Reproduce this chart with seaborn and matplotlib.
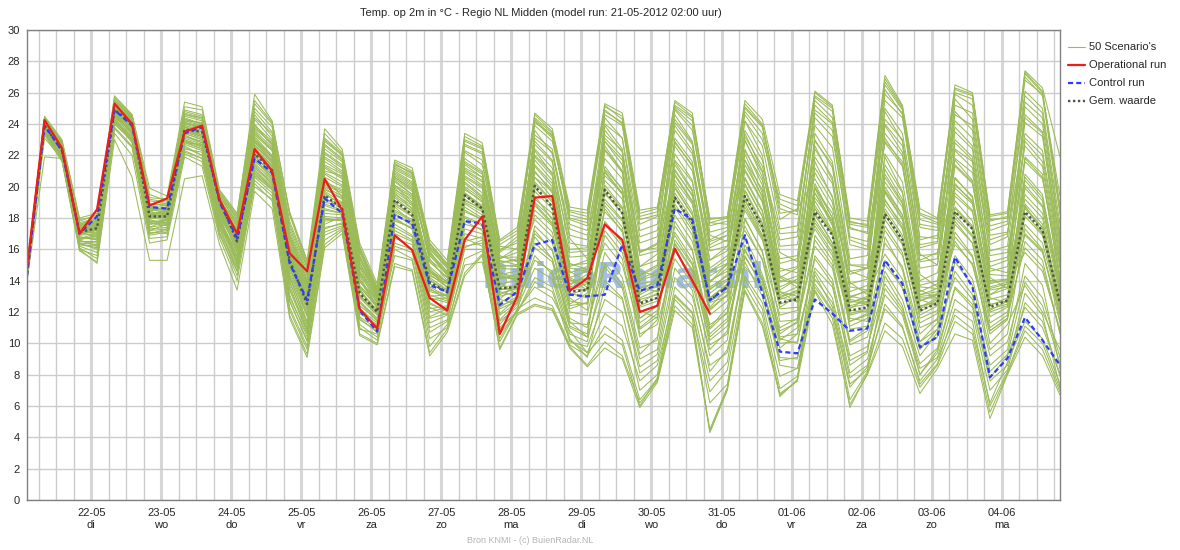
import numpy as np
import pandas as pd
import matplotlib
matplotlib.use("Agg")
import matplotlib.pyplot as plt
import matplotlib.dates as mdates
from matplotlib.lines import Line2D
import seaborn as sns

# 6-hourly steps, model run 21-05-2012 02:00
times = pd.date_range("2012-05-21 02:00", periods=60, freq="6h")
day_names = ["ma", "di", "wo", "do", "vr", "za", "zo"]

oper = [14.8, 24.25, 22.45, 17.0, 18.55, 25.3, 24.0, 18.8, 19.25, 23.5,
        23.9, 19.15, 17.0, 22.4, 21.0, 15.75, 14.6, 20.5, 18.5, 12.2,
        10.95, 16.9, 15.95, 12.9, 12.1, 16.6, 18.1, 10.6, 13.0, 19.3,
        19.4, 13.35, 14.15, 17.6, 16.6, 12.0, 12.4, 16.05, 14.0, 11.9]

control = [14.3, 23.9, 22.3, 17.0, 18.1, 24.9, 23.9, 18.7, 18.6, 23.4,
           23.8, 19.0, 16.7, 21.8, 20.9, 15.1, 12.75, 19.25, 18.3, 12.1,
           10.75, 18.2, 17.65, 13.7, 13.3, 17.8, 17.65, 12.45, 13.3, 16.3,
           16.6, 13.1, 13.0, 13.1, 16.3, 13.35, 13.7, 18.6, 17.9, 12.75,
           13.6, 16.9, 13.2, 9.47, 9.36, 12.8, 11.9, 10.8, 10.95, 15.3,
           13.8, 9.75, 10.4, 15.5, 13.6, 7.83, 9.04, 11.65, 10.2, 8.6]

gem = [14.5, 23.9, 22.3, 17.1, 17.35, 24.9, 24.05, 18.1, 18.1, 23.65,
       23.5, 19.15, 16.5, 22.1, 21.05, 15.3, 12.5, 19.45, 18.6, 13.2,
       12.0, 19.15, 18.2, 13.9, 13.25, 19.45, 18.6, 13.5, 13.6, 20.05,
       18.7, 13.3, 13.4, 19.8, 18.3, 12.55, 12.9, 19.3, 17.7, 12.75,
       13.6, 19.4, 17.45, 12.6, 12.8, 18.4, 16.9, 12.1, 12.3, 18.25,
       16.6, 12.1, 12.55, 18.4, 17.3, 12.3, 12.75, 18.4, 17.2, 12.55]

# 50 ensemble members
m01 = [14.6, 24.2, 22.6, 17.4, 17.8, 25.2, 24.3, 18.5, 18.6, 24.1, 23.8, 19.3, 17.0, 23.1, 21.9, 16.0, 13.1, 20.5, 19.4, 14.1, 12.6, 20.1, 19.0, 14.6, 13.9, 20.5, 19.6, 14.2, 14.1, 22.3, 20.8, 15.1, 14.7, 22.9, 21.4, 14.3, 14.9, 21.6, 19.8, 13.9, 15.1, 23.4, 21.0, 15.8, 15.2, 22.6, 20.4, 14.6, 14.2, 24.8, 22.9, 15.7, 15.0, 23.5, 22.4, 14.8, 14.5, 25.1, 24.0, 16.2]
m02 = [14.3, 23.8, 22.1, 16.6, 16.9, 24.6, 23.7, 17.6, 17.9, 23.2, 22.9, 18.4, 15.9, 20.8, 19.8, 13.9, 11.2, 18.0, 17.8, 12.0, 11.1, 17.6, 16.9, 12.2, 12.4, 17.3, 17.0, 12.4, 12.8, 17.2, 15.9, 11.6, 11.0, 15.8, 14.2, 9.7, 10.2, 16.3, 14.6, 10.2, 11.1, 15.9, 14.1, 10.4, 10.6, 14.8, 13.6, 8.9, 9.5, 15.3, 13.5, 9.8, 10.4, 14.6, 13.1, 8.2, 9.3, 13.9, 12.4, 8.7]
m03 = [14.5, 24.0, 22.4, 17.1, 17.5, 24.9, 24.0, 18.0, 18.2, 23.7, 23.4, 19.0, 16.6, 22.3, 21.3, 15.4, 12.6, 19.6, 18.8, 13.3, 12.1, 19.3, 18.4, 14.0, 13.4, 19.6, 18.7, 13.6, 13.7, 20.3, 19.1, 13.5, 13.8, 19.9, 18.6, 12.8, 13.1, 19.4, 17.6, 12.9, 13.8, 19.8, 17.7, 12.5, 12.9, 18.6, 17.0, 12.3, 12.5, 18.4, 16.7, 12.0, 12.7, 18.7, 17.5, 12.4, 12.9, 18.6, 17.4, 12.8]
m04 = [14.7, 24.3, 22.8, 17.6, 18.0, 25.5, 24.4, 19.1, 18.9, 24.8, 24.5, 19.6, 17.9, 24.6, 23.2, 17.2, 14.4, 22.1, 21.3, 15.6, 13.2, 21.2, 20.6, 16.1, 14.8, 22.6, 22.1, 16.0, 16.4, 24.1, 23.3, 17.9, 17.5, 24.6, 23.9, 17.2, 17.6, 24.9, 23.6, 17.5, 17.8, 25.1, 23.9, 18.9, 18.4, 25.7, 24.8, 17.6, 17.4, 26.5, 24.9, 17.9, 17.6, 25.9, 25.2, 17.8, 18.1, 26.8, 25.9, 19.4]
m05 = [14.4, 23.6, 21.9, 16.3, 16.1, 24.3, 22.8, 17.0, 17.2, 22.6, 22.0, 18.2, 15.0, 21.0, 19.9, 12.7, 10.2, 17.1, 17.5, 11.2, 10.4, 16.4, 16.0, 11.0, 11.5, 16.2, 16.4, 11.4, 12.3, 14.8, 14.1, 10.3, 9.1, 13.6, 12.8, 8.1, 8.9, 14.2, 13.0, 8.6, 9.4, 14.9, 13.5, 9.1, 9.0, 14.1, 12.6, 7.8, 8.6, 13.5, 12.0, 8.4, 9.1, 12.8, 11.9, 7.0, 8.3, 12.6, 11.4, 7.9]
m06 = [14.6, 24.1, 22.5, 17.3, 17.2, 25.0, 24.2, 18.8, 18.4, 24.4, 24.0, 18.9, 16.8, 24.0, 22.6, 16.3, 13.6, 18.6, 18.3, 13.9, 12.9, 18.2, 17.6, 15.2, 14.2, 21.4, 20.6, 15.3, 15.0, 23.6, 22.1, 16.7, 15.4, 17.6, 16.2, 11.6, 12.4, 22.8, 21.4, 14.8, 15.6, 17.2, 15.4, 11.0, 11.6, 21.6, 19.3, 13.9, 13.1, 15.7, 14.1, 10.1, 11.3, 22.4, 21.6, 14.2, 13.5, 16.9, 15.8, 11.8]
m07 = [14.2, 23.5, 21.7, 16.0, 15.6, 24.1, 23.2, 17.4, 17.9, 22.8, 22.7, 17.6, 15.6, 21.6, 20.8, 14.8, 11.9, 19.1, 19.0, 12.6, 11.4, 20.6, 19.8, 13.5, 12.8, 18.4, 17.9, 11.8, 12.6, 19.4, 17.9, 12.9, 12.1, 21.3, 19.8, 12.1, 11.6, 18.7, 16.9, 11.8, 12.7, 20.6, 18.5, 13.6, 14.1, 17.5, 15.8, 11.9, 12.2, 19.6, 17.9, 12.8, 12.4, 17.8, 16.4, 11.7, 12.3, 19.9, 18.7, 13.3]
m08 = [14.8, 24.4, 22.9, 17.8, 18.2, 25.8, 24.6, 19.9, 19.4, 25.4, 25.1, 19.8, 18.3, 25.5, 24.1, 18.2, 15.0, 23.4, 22.2, 16.2, 13.6, 21.6, 21.0, 16.4, 15.1, 23.2, 22.6, 16.5, 17.2, 24.6, 23.5, 18.5, 18.3, 25.1, 24.5, 18.3, 18.6, 25.4, 24.5, 17.9, 18.1, 25.5, 24.3, 19.5, 19.1, 26.0, 25.1, 18.0, 17.8, 27.1, 25.2, 18.6, 18.0, 26.3, 25.9, 18.2, 18.4, 27.4, 26.3, 21.9]
m09 = [14.0, 23.3, 21.6, 15.9, 15.2, 23.4, 22.0, 16.4, 16.6, 21.9, 21.3, 16.7, 14.0, 20.2, 19.1, 11.8, 9.3, 16.3, 17.2, 10.6, 10.0, 15.1, 14.7, 9.4, 10.9, 14.5, 15.7, 9.7, 11.9, 12.5, 12.2, 9.8, 8.6, 10.1, 9.2, 6.2, 7.6, 12.4, 11.2, 4.5, 7.2, 13.4, 11.3, 6.8, 7.6, 13.3, 11.2, 6.1, 8.0, 10.8, 9.8, 6.8, 8.4, 10.6, 10.2, 5.2, 8.0, 10.4, 9.2, 6.7]
m10 = [14.5, 23.9, 22.2, 17.0, 17.6, 24.7, 23.9, 18.3, 18.0, 23.5, 23.1, 19.2, 16.9, 22.9, 21.6, 15.8, 12.9, 20.1, 19.6, 14.3, 12.2, 19.9, 18.9, 14.4, 13.6, 18.9, 18.2, 13.9, 13.1, 21.7, 20.4, 14.5, 14.9, 19.0, 17.8, 13.2, 14.2, 16.9, 15.1, 10.9, 12.0, 22.1, 19.6, 14.2, 13.6, 19.3, 17.8, 13.0, 12.8, 17.2, 15.6, 11.3, 11.9, 20.6, 19.3, 13.1, 13.8, 15.8, 14.6, 10.9]
m11 = [14.6, 24.1, 22.6, 17.5, 17.9, 24.6, 23.4, 18.1, 18.5, 23.9, 23.6, 18.6, 16.2, 22.0, 20.7, 14.9, 12.1, 18.9, 18.5, 12.9, 11.8, 20.9, 20.2, 15.6, 14.4, 20.2, 19.3, 14.9, 15.0, 17.9, 16.8, 12.2, 12.6, 22.3, 20.9, 13.6, 13.3, 20.4, 18.9, 13.2, 14.0, 18.0, 15.8, 11.8, 12.1, 23.4, 21.6, 15.0, 14.8, 18.9, 17.3, 12.7, 13.2, 16.5, 15.0, 10.8, 11.6, 21.8, 20.6, 14.1]
m12 = [14.4, 23.7, 22.0, 16.8, 16.6, 25.3, 24.1, 17.8, 17.7, 23.0, 22.5, 18.0, 15.6, 23.5, 22.3, 16.8, 13.9, 20.9, 20.3, 13.7, 12.5, 18.7, 17.7, 13.1, 12.7, 19.9, 19.0, 13.0, 13.3, 22.9, 21.7, 14.6, 13.9, 23.6, 22.2, 15.6, 15.9, 21.1, 19.4, 14.6, 15.4, 24.2, 22.0, 14.8, 14.5, 19.9, 17.6, 12.6, 13.0, 23.1, 21.4, 14.4, 13.6, 24.8, 23.6, 15.6, 15.8, 22.6, 21.3, 14.3]
m13 = [14.9, 24.5, 23.0, 18.0, 18.3, 25.6, 24.5, 19.2, 19.0, 24.6, 24.4, 19.5, 17.6, 25.0, 23.8, 17.8, 14.9, 22.7, 21.8, 15.9, 13.4, 21.5, 20.8, 16.3, 15.0, 22.9, 22.4, 15.9, 16.8, 20.6, 19.7, 15.8, 15.9, 19.5, 18.6, 14.9, 15.3, 24.6, 22.9, 16.6, 17.2, 24.8, 23.4, 17.9, 18.6, 20.5, 18.6, 14.4, 14.8, 25.9, 24.7, 16.6, 16.9, 21.7, 20.4, 14.9, 15.3, 24.1, 23.2, 15.9]
m14 = [14.3, 23.4, 21.8, 16.4, 16.3, 24.0, 23.0, 17.2, 17.3, 22.2, 21.8, 17.3, 14.9, 20.4, 19.4, 13.1, 10.4, 17.6, 18.1, 12.2, 11.3, 18.0, 17.3, 12.6, 12.0, 17.0, 16.7, 10.9, 12.0, 16.8, 15.4, 11.4, 10.4, 17.8, 16.4, 10.6, 11.2, 15.4, 13.8, 9.6, 10.8, 16.8, 14.4, 10.8, 11.3, 16.2, 14.8, 9.9, 10.4, 14.6, 12.8, 9.2, 10.7, 17.1, 15.6, 10.0, 11.2, 13.7, 12.0, 9.6]
m15 = [14.6, 24.2, 22.7, 17.3, 17.6, 24.9, 24.1, 18.4, 18.7, 24.0, 23.9, 18.8, 17.3, 22.6, 21.7, 15.1, 13.2, 21.6, 20.9, 14.6, 13.0, 19.6, 18.6, 14.8, 13.5, 20.9, 20.1, 14.4, 14.6, 21.0, 19.6, 14.1, 13.4, 23.9, 22.4, 14.6, 14.3, 20.2, 18.4, 12.7, 13.3, 19.2, 16.9, 12.3, 13.0, 21.9, 20.2, 13.3, 13.7, 20.3, 18.7, 13.4, 12.9, 19.4, 18.4, 12.8, 13.1, 20.8, 19.5, 13.6]
m16 = [14.5, 24.0, 22.4, 17.2, 17.0, 25.4, 24.2, 18.2, 18.1, 23.4, 23.0, 18.3, 16.4, 21.8, 20.6, 14.4, 11.7, 19.9, 19.2, 13.0, 11.9, 17.8, 17.4, 12.3, 11.8, 19.0, 18.4, 13.3, 13.0, 19.7, 18.6, 13.1, 13.5, 18.6, 17.1, 12.3, 12.7, 22.1, 20.4, 14.0, 14.6, 19.1, 17.2, 13.1, 13.6, 18.2, 16.4, 12.1, 12.0, 21.4, 19.6, 13.1, 13.3, 18.2, 16.9, 12.0, 12.4, 18.1, 16.9, 12.4]
m17 = [14.7, 24.3, 22.6, 17.7, 18.0, 24.6, 23.8, 18.9, 18.8, 24.2, 24.1, 19.1, 17.7, 24.3, 23.0, 17.0, 14.3, 21.0, 20.7, 14.9, 13.6, 20.5, 19.7, 15.7, 14.6, 21.8, 21.0, 15.4, 15.8, 23.1, 22.2, 17.3, 16.9, 21.1, 19.9, 15.8, 16.4, 23.6, 22.1, 16.9, 16.5, 21.7, 19.3, 15.4, 15.6, 24.4, 23.2, 16.6, 16.2, 22.8, 21.3, 15.2, 15.4, 25.6, 24.3, 16.9, 17.1, 23.4, 22.3, 15.6]
m18 = [14.1, 23.1, 21.8, 16.1, 15.4, 23.7, 22.5, 16.7, 16.8, 22.4, 22.2, 17.0, 14.3, 20.6, 19.6, 12.3, 9.8, 16.6, 17.3, 11.0, 10.2, 16.0, 15.4, 10.3, 11.0, 15.4, 15.9, 10.1, 12.1, 13.6, 12.9, 10.8, 9.4, 11.9, 11.1, 7.6, 8.6, 13.1, 12.0, 6.9, 8.3, 14.3, 12.6, 7.9, 8.4, 13.8, 12.1, 7.2, 8.5, 12.2, 11.0, 7.6, 9.0, 11.8, 10.9, 6.2, 8.8, 11.4, 10.3, 7.4]
m19 = [14.5, 24.0, 22.3, 16.9, 17.3, 24.8, 23.9, 18.6, 18.3, 23.8, 23.5, 18.7, 16.5, 23.7, 22.8, 16.6, 13.7, 22.4, 21.6, 15.4, 13.1, 21.0, 20.3, 15.2, 14.2, 21.2, 20.6, 15.1, 15.4, 19.2, 18.3, 13.8, 14.2, 24.4, 23.1, 15.9, 16.1, 22.6, 21.0, 15.3, 16.2, 20.1, 18.1, 13.4, 14.1, 17.3, 15.6, 11.4, 11.9, 23.9, 22.2, 15.3, 15.8, 20.2, 19.0, 13.6, 13.9, 24.6, 23.5, 15.1]
m20 = [14.4, 23.8, 22.0, 16.7, 17.0, 24.4, 23.6, 17.9, 17.6, 22.9, 22.4, 17.8, 15.4, 21.3, 20.3, 14.0, 11.0, 18.3, 18.2, 12.4, 11.5, 19.4, 18.6, 13.6, 13.0, 18.1, 17.6, 12.8, 12.5, 16.1, 15.2, 11.1, 10.6, 18.8, 17.4, 11.0, 11.9, 17.5, 15.9, 10.4, 11.4, 15.6, 13.6, 9.7, 10.6, 19.1, 17.2, 10.9, 11.1, 16.4, 14.9, 10.6, 11.6, 15.6, 14.1, 9.6, 10.6, 17.3, 16.0, 11.3]
m21 = [14.6, 24.2, 22.5, 17.4, 17.7, 25.1, 24.4, 18.7, 18.5, 24.5, 24.2, 19.4, 18.0, 23.9, 22.9, 16.9, 14.1, 23.0, 22.0, 16.0, 13.3, 20.3, 19.5, 15.8, 14.6, 22.2, 21.4, 16.2, 16.0, 24.7, 23.7, 18.7, 18.5, 25.3, 24.7, 18.5, 18.7, 23.9, 22.3, 16.3, 16.9, 22.9, 20.9, 16.6, 16.8, 25.2, 24.1, 17.3, 17.1, 25.5, 24.4, 17.4, 17.2, 24.2, 23.1, 16.3, 16.8, 25.8, 24.7, 17.1]
m22 = [14.5, 23.9, 22.3, 17.1, 16.8, 24.5, 23.5, 17.7, 17.9, 23.3, 22.8, 18.1, 16.1, 22.4, 21.4, 15.6, 12.4, 19.5, 18.9, 13.6, 12.4, 19.0, 18.1, 13.8, 13.3, 19.2, 18.5, 12.8, 13.9, 18.2, 17.1, 12.5, 13.2, 20.4, 19.2, 12.4, 12.9, 18.2, 16.5, 12.2, 13.1, 21.4, 19.4, 12.9, 12.7, 19.6, 17.5, 12.7, 12.5, 17.9, 16.3, 11.8, 12.4, 22.8, 21.7, 14.0, 14.1, 19.2, 18.0, 12.1]
m23 = [14.3, 23.6, 21.9, 16.5, 16.4, 24.2, 23.3, 17.3, 17.4, 22.7, 22.3, 17.6, 15.3, 21.4, 20.1, 13.5, 10.9, 17.8, 17.9, 11.7, 10.9, 17.2, 16.6, 11.7, 12.2, 16.7, 16.2, 11.2, 12.5, 15.6, 14.4, 10.6, 10.1, 14.9, 13.5, 9.0, 9.6, 15.9, 14.3, 9.2, 10.2, 17.9, 15.9, 10.3, 10.0, 15.4, 13.8, 8.6, 9.4, 16.8, 14.7, 10.1, 10.9, 14.2, 12.8, 8.6, 9.6, 15.1, 13.7, 8.4]
m24 = [14.7, 24.3, 22.8, 17.6, 17.4, 25.4, 24.5, 19.3, 19.2, 24.9, 24.6, 19.6, 18.1, 25.3, 24.0, 18.4, 15.3, 23.7, 22.4, 16.4, 13.8, 21.7, 21.2, 16.6, 15.3, 23.4, 22.8, 16.6, 17.4, 23.9, 22.9, 18.2, 17.9, 25.2, 24.3, 18.1, 18.4, 25.5, 24.7, 17.7, 18.0, 24.6, 23.0, 19.2, 18.8, 25.8, 25.0, 17.8, 17.5, 26.9, 25.1, 18.3, 17.9, 26.5, 26.0, 18.1, 18.3, 27.2, 26.0, 18.8]
m25 = [14.5, 24.0, 22.4, 17.0, 17.4, 24.8, 24.0, 18.2, 18.3, 23.6, 23.3, 19.0, 16.7, 23.0, 21.9, 15.7, 13.0, 20.6, 20.0, 14.5, 12.6, 20.4, 19.5, 14.7, 13.9, 20.3, 19.4, 14.1, 14.4, 18.5, 17.5, 13.2, 12.9, 16.4, 15.0, 10.9, 11.7, 19.3, 17.4, 12.3, 13.5, 23.0, 20.6, 14.3, 13.8, 17.7, 16.1, 11.6, 11.4, 19.2, 17.4, 12.2, 12.8, 16.3, 15.1, 10.6, 11.5, 18.3, 17.0, 12.6]
m26 = [14.6, 24.1, 22.5, 17.2, 17.5, 25.0, 24.1, 18.4, 18.2, 24.3, 24.0, 18.4, 16.9, 23.3, 22.3, 16.1, 13.4, 21.3, 20.6, 14.8, 12.9, 19.8, 19.2, 14.3, 13.8, 21.0, 20.3, 15.0, 14.9, 22.0, 20.9, 14.9, 15.3, 20.7, 19.6, 14.1, 14.6, 21.4, 19.7, 13.6, 14.3, 20.2, 18.1, 13.0, 13.3, 22.4, 20.6, 13.8, 14.1, 20.8, 19.0, 13.3, 13.8, 21.3, 20.2, 13.9, 14.0, 21.9, 20.8, 13.9]
m27 = [14.4, 23.7, 22.1, 16.6, 16.2, 24.2, 23.0, 17.1, 17.0, 22.5, 22.0, 17.4, 14.6, 20.9, 19.9, 12.9, 10.6, 17.3, 17.7, 11.5, 10.8, 16.7, 16.3, 11.3, 11.8, 16.1, 16.6, 11.0, 12.0, 14.2, 13.6, 10.1, 9.8, 12.8, 12.0, 7.0, 8.0, 13.6, 12.4, 7.6, 8.8, 15.5, 13.8, 8.6, 8.4, 13.6, 12.0, 6.4, 8.2, 14.3, 12.4, 8.0, 9.4, 13.5, 12.3, 7.6, 8.6, 13.2, 11.8, 7.2]
m28 = [14.8, 24.4, 22.9, 17.9, 18.1, 25.7, 24.6, 19.5, 19.1, 25.1, 24.9, 19.7, 18.2, 25.9, 24.2, 18.3, 15.2, 22.9, 22.0, 15.8, 13.3, 21.4, 20.9, 16.2, 14.9, 22.7, 22.2, 15.8, 16.6, 24.3, 23.2, 18.0, 17.7, 24.8, 24.1, 17.6, 18.1, 25.1, 24.2, 18.0, 18.0, 25.3, 24.0, 18.6, 18.2, 26.1, 25.2, 17.4, 17.0, 26.2, 24.6, 17.6, 17.4, 26.0, 25.6, 17.5, 17.8, 27.0, 25.8, 18.2]
m29 = [14.0, 21.9, 21.8, 16.0, 15.1, 23.0, 20.6, 15.3, 15.3, 20.5, 20.7, 16.3, 13.4, 19.7, 18.6, 11.6, 9.1, 16.1, 17.0, 10.5, 9.9, 14.9, 14.6, 9.2, 10.7, 14.3, 15.6, 9.6, 11.8, 12.4, 12.1, 9.7, 8.5, 9.7, 9.0, 5.9, 7.5, 12.1, 11.0, 4.4, 7.1, 13.3, 11.1, 6.7, 7.6, 16.9, 15.3, 10.1, 10.8, 19.7, 18.0, 12.3, 12.9, 21.4, 20.3, 13.8, 14.1, 18.8, 17.1, 12.0]
m30 = [14.5, 24.0, 22.3, 17.0, 17.1, 24.7, 23.8, 18.0, 18.1, 23.6, 23.2, 18.5, 16.3, 22.1, 21.0, 15.0, 12.2, 20.0, 19.4, 13.5, 11.9, 21.4, 20.9, 15.9, 14.3, 19.6, 18.8, 13.4, 13.6, 20.6, 19.3, 13.7, 14.4, 22.6, 21.0, 13.3, 13.6, 19.6, 17.9, 12.6, 13.0, 21.7, 19.8, 13.3, 13.0, 20.2, 18.0, 12.2, 12.9, 22.1, 20.3, 14.0, 14.5, 19.6, 18.5, 12.9, 12.6, 20.4, 19.1, 13.2]
m31 = [14.6, 24.1, 22.6, 17.3, 17.8, 25.2, 24.3, 18.6, 18.6, 24.1, 23.7, 18.9, 17.1, 23.6, 22.5, 16.4, 13.8, 21.9, 21.2, 15.2, 13.0, 20.7, 20.0, 15.4, 14.0, 21.6, 20.9, 15.6, 15.2, 22.7, 21.6, 16.0, 16.1, 23.1, 21.9, 14.9, 15.7, 24.1, 22.7, 16.1, 16.6, 23.6, 21.7, 16.2, 16.3, 23.9, 22.5, 15.4, 15.6, 24.3, 23.0, 16.1, 16.4, 23.8, 22.6, 15.9, 16.2, 24.4, 23.4, 16.5]
m32 = [14.3, 23.5, 21.8, 16.4, 16.0, 24.1, 23.1, 17.2, 17.6, 22.9, 22.6, 17.7, 15.2, 21.2, 20.2, 13.7, 10.8, 18.1, 18.0, 12.1, 11.0, 17.4, 16.8, 12.0, 12.3, 17.6, 17.3, 11.9, 12.9, 16.4, 15.4, 11.3, 11.2, 15.1, 13.8, 9.3, 10.4, 16.6, 15.0, 9.9, 10.6, 16.3, 14.2, 10.0, 10.1, 15.6, 14.1, 9.2, 9.8, 13.8, 12.2, 8.7, 9.7, 15.2, 13.7, 9.2, 10.1, 14.3, 12.9, 9.1]
m33 = [14.5, 24.0, 22.4, 17.2, 17.3, 24.9, 23.9, 18.1, 18.0, 23.7, 23.3, 18.6, 16.4, 22.5, 21.3, 15.3, 12.8, 19.3, 18.6, 13.1, 12.0, 18.5, 17.9, 13.0, 13.1, 18.7, 18.0, 13.2, 13.5, 21.3, 20.0, 14.2, 13.6, 18.4, 17.2, 12.9, 13.4, 20.8, 19.1, 13.9, 14.8, 19.4, 17.4, 13.3, 12.6, 18.8, 17.1, 12.4, 12.7, 20.6, 18.9, 13.0, 13.1, 19.1, 17.8, 12.5, 12.7, 17.6, 16.4, 12.2]
m34 = [14.7, 24.2, 22.7, 17.5, 17.9, 25.3, 24.4, 18.8, 18.9, 24.6, 24.3, 19.2, 17.5, 24.4, 23.4, 17.4, 14.6, 22.6, 21.7, 15.5, 13.4, 21.1, 20.5, 16.0, 14.8, 22.3, 21.7, 15.4, 16.1, 24.4, 23.4, 17.6, 17.2, 22.9, 21.7, 16.4, 16.8, 25.0, 23.9, 17.1, 17.4, 24.2, 22.6, 17.3, 17.5, 24.9, 24.0, 16.8, 16.5, 24.0, 22.6, 16.3, 16.5, 25.2, 24.7, 17.2, 17.6, 26.1, 25.0, 17.6]
m35 = [14.4, 23.7, 22.1, 16.7, 16.7, 24.3, 23.4, 17.6, 17.7, 23.1, 22.7, 17.9, 15.8, 21.7, 20.5, 14.2, 11.4, 18.8, 18.4, 12.7, 11.6, 18.4, 17.8, 12.9, 12.6, 18.0, 17.5, 12.6, 13.2, 17.0, 16.0, 12.0, 11.8, 16.9, 15.4, 10.4, 11.5, 17.8, 16.0, 11.0, 12.3, 17.5, 15.3, 10.6, 11.4, 16.6, 15.0, 10.2, 11.0, 15.0, 13.6, 9.6, 10.9, 17.6, 16.4, 10.8, 11.6, 16.5, 15.3, 10.6]
m36 = [14.6, 24.2, 22.5, 17.4, 17.6, 25.1, 24.2, 18.5, 18.4, 24.0, 23.7, 18.7, 16.8, 22.8, 21.8, 15.6, 13.1, 20.2, 19.7, 14.0, 12.4, 19.7, 18.9, 14.5, 13.8, 20.0, 19.2, 14.3, 14.1, 20.9, 19.8, 15.0, 15.1, 21.8, 20.5, 13.8, 14.0, 20.0, 18.2, 13.4, 14.4, 22.4, 20.1, 14.6, 14.9, 21.2, 19.4, 13.6, 13.4, 21.9, 19.7, 13.7, 14.0, 20.5, 19.4, 13.4, 13.6, 22.9, 21.6, 14.8]
m37 = [14.2, 23.4, 21.7, 16.2, 15.8, 23.8, 22.6, 16.9, 17.1, 22.1, 21.6, 16.9, 14.6, 20.0, 19.2, 12.1, 9.6, 16.9, 17.4, 10.9, 10.6, 15.6, 15.3, 9.8, 11.2, 15.0, 15.2, 10.3, 12.2, 12.9, 12.4, 9.9, 9.2, 11.1, 10.2, 6.4, 7.7, 12.8, 11.6, 4.3, 7.0, 13.7, 11.8, 6.6, 7.7, 14.4, 12.3, 7.4, 8.3, 12.5, 11.1, 7.4, 8.7, 12.2, 11.4, 6.0, 8.2, 11.1, 10.0, 7.1]
m38 = [14.5, 24.0, 22.4, 17.1, 17.2, 24.8, 23.9, 18.3, 18.4, 23.8, 23.5, 18.9, 16.6, 22.7, 21.6, 15.5, 12.9, 21.2, 20.5, 14.6, 12.8, 18.9, 18.3, 14.1, 13.2, 19.1, 18.6, 14.6, 13.9, 18.9, 17.7, 14.2, 14.6, 20.9, 19.5, 14.0, 14.4, 21.7, 20.3, 14.6, 15.1, 18.7, 16.7, 12.9, 13.4, 20.9, 19.0, 12.8, 12.6, 19.1, 17.6, 13.1, 13.5, 21.8, 20.9, 14.4, 14.3, 19.5, 18.3, 13.0]
m39 = [14.6, 24.1, 22.5, 17.3, 17.5, 25.0, 24.2, 18.6, 18.5, 24.2, 23.9, 19.1, 17.2, 23.2, 22.0, 15.9, 13.3, 21.4, 20.8, 15.1, 13.0, 20.8, 20.1, 15.3, 14.5, 21.1, 20.4, 15.2, 15.3, 22.4, 21.2, 16.4, 16.2, 23.3, 22.3, 15.8, 16.3, 22.9, 21.3, 15.9, 16.2, 21.1, 19.1, 14.2, 14.8, 22.9, 21.4, 15.0, 15.0, 23.4, 22.0, 15.6, 15.7, 23.0, 21.9, 15.2, 15.5, 21.6, 20.5, 14.9]
m40 = [14.4, 23.8, 22.1, 16.8, 16.6, 24.5, 23.6, 17.8, 17.8, 23.2, 22.8, 18.3, 15.9, 21.9, 20.9, 14.6, 11.8, 19.0, 18.8, 13.0, 12.0, 17.9, 17.3, 12.5, 12.1, 18.5, 17.9, 12.2, 12.7, 17.5, 16.4, 12.4, 12.6, 19.6, 18.3, 11.6, 12.4, 16.4, 14.7, 10.6, 11.6, 18.9, 16.8, 11.4, 11.5, 17.9, 16.2, 11.1, 11.6, 18.2, 16.4, 11.6, 12.1, 16.8, 15.5, 11.0, 11.8, 18.7, 17.4, 11.4]
m41 = [14.5, 24.0, 22.3, 17.0, 17.3, 24.7, 23.8, 18.2, 18.1, 23.5, 23.2, 18.6, 16.2, 22.2, 21.1, 15.2, 12.5, 19.8, 19.3, 13.6, 12.3, 19.1, 18.5, 13.4, 13.1, 19.5, 18.7, 13.5, 13.4, 19.9, 18.8, 14.0, 14.1, 19.2, 17.9, 12.6, 13.2, 18.9, 17.2, 12.1, 13.1, 19.7, 17.6, 12.2, 12.3, 18.3, 16.4, 11.8, 12.1, 18.6, 16.9, 12.4, 12.6, 18.6, 17.4, 12.2, 12.5, 17.0, 15.9, 11.9]
m42 = [14.3, 23.6, 22.0, 16.5, 16.5, 24.0, 22.9, 17.0, 17.3, 22.3, 21.8, 17.1, 14.8, 20.7, 19.8, 12.7, 10.1, 17.4, 17.6, 11.6, 10.7, 16.2, 15.8, 10.7, 11.4, 16.0, 16.0, 10.6, 12.0, 13.9, 13.3, 10.2, 9.4, 10.6, 9.9, 6.0, 7.8, 13.0, 11.9, 6.2, 7.4, 14.1, 12.2, 7.1, 7.9, 13.4, 11.6, 5.9, 8.1, 11.3, 10.3, 7.2, 8.6, 11.4, 10.6, 5.6, 8.1, 10.8, 9.6, 6.9]
m43 = [14.6, 24.2, 22.6, 17.4, 17.8, 25.2, 24.3, 18.7, 18.7, 24.3, 24.0, 19.2, 17.4, 23.8, 22.7, 16.7, 14.0, 22.2, 21.4, 15.4, 13.2, 20.6, 19.9, 15.6, 14.5, 21.5, 20.8, 15.5, 15.5, 23.3, 22.4, 16.9, 16.6, 24.0, 23.1, 16.8, 17.2, 24.3, 22.8, 16.5, 16.9, 23.2, 21.3, 17.0, 17.1, 24.7, 23.6, 16.3, 16.0, 25.0, 23.4, 16.8, 16.7, 24.6, 23.9, 16.6, 17.0, 25.4, 24.4, 16.8]
m44 = [14.5, 23.9, 22.2, 16.9, 17.0, 24.6, 23.7, 18.0, 17.9, 23.4, 23.0, 18.4, 16.0, 22.6, 21.5, 15.5, 12.7, 20.3, 19.8, 14.0, 12.4, 20.0, 19.3, 14.6, 13.6, 20.6, 19.9, 14.5, 14.2, 19.0, 18.0, 13.5, 13.4, 20.1, 18.7, 13.1, 13.7, 20.7, 19.0, 13.5, 14.1, 21.0, 19.0, 14.0, 13.9, 19.6, 17.8, 13.0, 13.3, 20.0, 18.2, 12.9, 12.9, 19.9, 18.9, 13.5, 13.8, 20.1, 18.8, 13.5]
m45 = [14.4, 23.8, 22.0, 16.7, 16.8, 24.4, 23.5, 17.7, 17.5, 23.0, 22.6, 17.9, 15.5, 21.5, 20.4, 14.3, 11.3, 18.5, 18.3, 12.6, 11.6, 18.3, 17.5, 12.8, 12.9, 17.8, 17.2, 12.3, 13.0, 18.8, 17.6, 12.7, 12.5, 17.2, 15.8, 11.3, 12.1, 17.1, 15.4, 11.2, 11.9, 16.0, 14.0, 10.2, 11.0, 18.6, 16.9, 11.4, 11.8, 17.5, 15.8, 11.0, 11.5, 18.0, 16.8, 11.3, 12.0, 16.1, 14.9, 10.7]
m46 = [14.7, 24.3, 22.7, 17.6, 17.9, 25.5, 24.5, 18.9, 18.8, 24.7, 24.4, 19.3, 17.8, 24.8, 23.5, 17.6, 14.8, 23.1, 22.1, 16.1, 13.5, 21.3, 20.7, 16.4, 15.0, 23.0, 22.5, 16.3, 17.0, 24.2, 23.1, 18.4, 18.1, 24.9, 24.0, 17.9, 18.2, 25.2, 24.4, 17.7, 17.6, 25.0, 23.8, 18.3, 18.5, 25.5, 24.4, 17.7, 17.6, 26.7, 25.0, 18.2, 17.7, 26.2, 25.8, 17.9, 18.0, 27.3, 26.1, 18.5]
m47 = [14.5, 24.0, 22.4, 17.1, 17.4, 24.9, 24.0, 18.3, 18.2, 23.9, 23.6, 18.8, 16.7, 22.9, 21.9, 15.8, 13.0, 20.8, 20.1, 14.4, 12.7, 19.5, 18.8, 14.2, 13.4, 19.8, 19.1, 13.8, 14.0, 21.4, 20.2, 14.8, 14.6, 19.6, 18.3, 13.5, 13.9, 21.0, 19.5, 14.3, 15.0, 20.5, 18.4, 13.9, 14.3, 19.9, 18.3, 12.9, 13.4, 21.1, 19.2, 13.6, 13.5, 20.1, 19.1, 13.1, 13.5, 20.6, 19.3, 13.8]
m48 = [14.3, 23.5, 21.9, 16.3, 16.2, 24.2, 23.2, 17.4, 17.6, 22.8, 22.4, 17.5, 15.1, 21.1, 20.0, 13.4, 10.7, 17.9, 17.9, 11.9, 11.2, 17.0, 16.5, 11.6, 11.9, 16.5, 16.8, 11.5, 12.6, 15.3, 14.6, 11.0, 10.4, 14.0, 12.9, 8.5, 9.3, 14.8, 13.4, 8.2, 9.6, 15.2, 13.0, 8.9, 9.1, 14.6, 12.9, 8.1, 9.0, 13.1, 11.8, 8.0, 9.6, 13.6, 12.5, 7.8, 9.2, 12.3, 11.0, 8.1]
m49 = [14.6, 24.1, 22.5, 17.3, 17.7, 25.1, 24.3, 18.6, 18.6, 24.1, 23.8, 19.0, 17.0, 23.4, 22.4, 16.2, 13.5, 21.8, 21.0, 14.9, 13.1, 20.1, 19.4, 14.9, 13.9, 20.7, 20.0, 14.8, 14.7, 21.9, 20.7, 15.5, 15.6, 22.4, 21.0, 14.4, 15.0, 23.1, 21.6, 15.3, 15.9, 22.3, 20.4, 15.1, 15.4, 23.0, 21.2, 14.6, 14.8, 22.9, 21.6, 14.8, 15.0, 22.3, 21.2, 14.6, 14.9, 23.1, 22.0, 15.2]
m50 = [14.5, 24.0, 22.3, 17.0, 17.2, 24.7, 23.8, 18.1, 18.0, 23.6, 23.3, 18.5, 16.3, 22.3, 21.2, 15.1, 12.4, 19.7, 19.0, 13.4, 12.1, 18.8, 18.1, 13.3, 13.0, 19.4, 18.6, 13.1, 13.6, 20.2, 19.0, 13.6, 13.9, 21.0, 19.6, 13.5, 13.9, 19.9, 18.2, 12.9, 13.7, 18.5, 16.6, 12.8, 13.2, 20.0, 18.0, 12.6, 12.9, 19.8, 18.2, 12.7, 13.1, 18.4, 17.3, 12.1, 12.7, 18.9, 17.6, 12.6]

members = [m01, m02, m03, m04, m05, m06, m07, m08, m09, m10,
           m11, m12, m13, m14, m15, m16, m17, m18, m19, m20,
           m21, m22, m23, m24, m25, m26, m27, m28, m29, m30,
           m31, m32, m33, m34, m35, m36, m37, m38, m39, m40,
           m41, m42, m43, m44, m45, m46, m47, m48, m49, m50]

green = "#9bbb59"
red = "#ee1c1c"
blue = "#2b3cff"
grey = "#4f5545"

scen = pd.DataFrame({
    "time": np.tile(times, len(members)),
    "temp": np.concatenate(members),
    "member": np.repeat(np.arange(len(members)), len(times)),
})

sns.set_style("white")
plt.rcParams["font.family"] = ["Liberation Sans", "DejaVu Sans"]

fig = plt.figure(figsize=(11.8, 5.5), dpi=100)
ax = fig.add_axes([27 / 1180, 50 / 550, 1033 / 1180, 470 / 550])

# watermark behind the lines
ax.text(0.577, 0.474, "BuienRadar.nl", transform=ax.transAxes, ha="center", va="center",
        fontsize=26, fontweight="bold", family="DejaVu Sans", color="#a4bde6", zorder=1.2)

sns.lineplot(data=scen, x="time", y="temp", units="member", estimator=None,
             color=green, lw=0.75, ax=ax, zorder=2)
sns.lineplot(x=times, y=gem, color=grey, lw=1.7, linestyle=(0, (1, 1.1)), ax=ax, zorder=3)
sns.lineplot(x=times, y=control, color=blue, lw=1.6, linestyle=(0, (2.3, 1.4)), ax=ax, zorder=4)
sns.lineplot(x=times[:len(oper)], y=oper, color=red, lw=1.6, ax=ax, zorder=5)

ax.set_xlim(times[0], times[-1])
ax.set_ylim(0, 30)
ax.set_yticks(range(0, 31, 2))
ax.set_xlabel("")
ax.set_ylabel("")

ax.xaxis.set_major_locator(mdates.DayLocator())
ax.xaxis.set_minor_locator(mdates.HourLocator(byhour=[6, 12, 18]))


def day_label(v, pos):
    d = mdates.num2date(v)
    return d.strftime("%d-%m") + "\n" + day_names[d.weekday()]


ax.xaxis.set_major_formatter(plt.FuncFormatter(day_label))
ax.set_axisbelow(True)
ax.grid(axis="y", color="#cccccc", lw=1.0)
ax.grid(axis="x", which="major", color="#d6d6d6", lw=2.2)
ax.grid(axis="x", which="minor", color="#cccccc", lw=1.0)

ax.tick_params(axis="x", which="major", length=4, width=2, color="#d6d6d6",
               labelsize=8, pad=2)
ax.tick_params(axis="x", which="minor", length=0)
ax.tick_params(axis="y", length=0, labelsize=8, pad=5)
for lab in ax.get_xticklabels():
    lab.set_linespacing(1.25)
for sp in ax.spines.values():
    sp.set_color("#808080")
    sp.set_linewidth(1.0)
    sp.set_zorder(6)

handles = [
    Line2D([], [], color=green, lw=0.8),
    Line2D([], [], color=red, lw=1.6),
    Line2D([], [], color=blue, lw=1.6, linestyle=(0, (2.3, 1.4))),
    Line2D([], [], color=grey, lw=1.7, linestyle=(0, (1, 1.1))),
]
labels = ["50 Scenario's", "Operational run", "Control run", "Gem. waarde"]
fig.legend(handles, labels, loc="upper left", bbox_to_anchor=(1064 / 1180, 1 - 38 / 550),
           frameon=False, fontsize=8, handlelength=1.5, handletextpad=0.35,
           labelspacing=0.72, borderaxespad=0)

fig.text(541 / 1180, 1 - 13 / 550,
         "Temp. op 2m in \u00b0C - Regio NL Midden (model run: 21-05-2012 02:00 uur)",
         ha="center", va="center", fontsize=8)
fig.text(530 / 1180, 5 / 550, "Bron KNMI - (c) BuienRadar.NL", ha="center", va="bottom",
         fontsize=6.5, color="#b4b4b4")

fig.savefig("out.png", dpi=100)
